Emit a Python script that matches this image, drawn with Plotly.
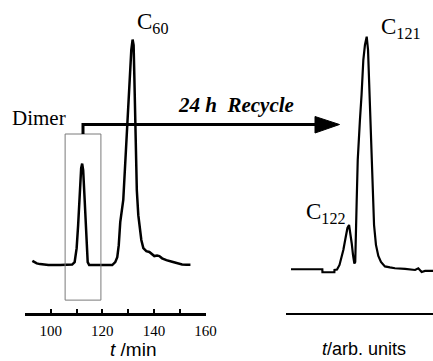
import plotly.graph_objects as go

# ---------------- data ----------------
left_time = [92.85, 94.56, 95.84, 99.07, 103.62, 105.95, 108.28, 109.25, 110.03, 110.61,
             111.20, 111.78, 112.17, 112.56, 113.14, 113.53, 113.92, 114.31, 114.89, 119.17,
             123.83, 125.0, 125.78, 126.36, 126.94, 128.11, 128.89, 129.55, 130.05, 130.64,
             131.22, 131.73, 132.12, 132.39, 132.62, 132.85, 133.36, 133.94, 134.53, 135.11,
             135.89, 137.05, 138.22, 139.0, 140.16, 141.21, 142.11, 143.16, 144.83, 147.05,
             148.72, 150.93, 152.61, 154.16]
left_signal = [1.9, 0.75, 0.44, 0, 0, 0, 0.22, 1.33, 7.5, 17.7,
               31.0, 42.9, 44.9, 42.0, 28.8, 17.7, 6.6, 1.3, 0, 0,
               0, 1.3, 3.5, 8.8, 19.0, 28.8, 46.5, 61.9, 73.0, 84.1,
               95.1, 99.8, 97.3, 84.1, 68.6, 55.3, 33.2, 22.1, 16.4, 11.1,
               7.5, 6.2, 5.8, 4.9, 4.0, 4.2, 4.0, 3.0, 2.2, 1.5,
               0.9, 0.3, 0.2, 0.2]

right_time = [3.4, 24.7, 24.8, 32.9, 33.0, 34.7, 36.4, 37.8, 39.0, 40.5, 41.8, 42.9, 43.7,
              44.7, 45.6, 46.5, 47.1, 47.6, 48.1, 48.8, 49.7, 50.3, 51.4, 52.6, 53.7, 54.9,
              55.8, 56.5, 57.1, 58.0, 59.0, 59.9, 61.2, 62.8, 64.6, 67.3, 70.7, 74.1, 81.0,
              87.8, 90.0, 92.3, 94.6, 100]
right_signal = [-0.56, -0.56, -1.86, -1.86, -0.87, -0.65, 1.3, 4.3, 7.8, 13.0, 17.3, 18.6, 15.6,
                10.7, 5.6, 1.9, 2.6, 12.1, 29.4, 46.8, 59.7, 64.1, 74.9, 90.0, 96.5, 100.1,
                94.4, 81.4, 64.1, 46.8, 35.1, 18.6, 10.0, 5.2, 2.6, 0.65, 0.22, -0.13, -0.43,
                -0.87, -0.13, -1.73, -1.3, -1.3]

left_ticks = [90, 100, 110, 120, 130, 140, 150, 160]
left_ticktext = ["", "100", "", "120", "", "140", "", "160"]

box_time = [105.56, 119.44]
box_signal = [-15.5, 58.0]

W, H = 433, 361
SERIF = "Liberation Serif, Times New Roman, serif"
SANS = "Liberation Sans, Arial, sans-serif"


def px(x):
    return x / W


def py(y):
    return 1 - y / H


fig = go.Figure()
fig.add_trace(go.Scatter(x=left_time, y=left_signal, mode="lines",
                         line=dict(color="black", width=2.5), xaxis="x", yaxis="y",
                         hoverinfo="skip", showlegend=False))
fig.add_trace(go.Scatter(x=right_time, y=right_signal, mode="lines",
                         line=dict(color="black", width=2.2), xaxis="x2", yaxis="y2",
                         hoverinfo="skip", showlegend=False))

ydom = [48 / H, 1]
fig.update_layout(
    template="none",
    width=W, height=H, autosize=False, margin=dict(l=0, r=0, t=0, b=0, pad=0),
    paper_bgcolor="white", plot_bgcolor="white", showlegend=False,
    xaxis=dict(domain=[25 / W, 205.5 / W], range=[90, 160], anchor="y", automargin=False,
               showline=True, linecolor="black", linewidth=2.5,
               ticks="inside", ticklen=4, tickwidth=2, tickcolor="black",
               tickvals=left_ticks, ticktext=left_ticktext, ticklabelstandoff=2,
               tickfont=dict(family=SERIF, size=15, color="black"),
               showgrid=False, zeroline=False),
    yaxis=dict(domain=ydom, range=[-21.2, 117.3], visible=False, automargin=False),
    xaxis2=dict(domain=[286 / W, 1], range=[0, 100], anchor="y2", automargin=False,
                showline=True, linecolor="black", linewidth=1.6,
                ticks="", showticklabels=False, showgrid=False, zeroline=False),
    yaxis2=dict(domain=ydom, range=[-19.5, 116], visible=False, automargin=False),
)

# fraction box around the dimer peak
fig.add_shape(type="rect", xref="x", yref="y",
              x0=box_time[0], x1=box_time[1], y0=box_signal[0], y1=box_signal[1],
              line=dict(color="#7a7a7a", width=1))

# recycle arrow
fig.add_shape(type="path", xref="paper", yref="paper",
              path=f"M {px(83)},{py(134)} L {px(83)},{py(124.5)} L {px(318)},{py(124.5)}",
              line=dict(color="black", width=3))
fig.add_shape(type="path", xref="paper", yref="paper",
              path=f"M {px(315)},{py(116.5)} L {px(339.5)},{py(124.5)} L {px(315)},{py(133)} Z",
              fillcolor="black", line=dict(color="black", width=1))

ann = [
    dict(text="C<sub>60</sub>", x=px(152), y=py(23), font=dict(family=SERIF, size=23)),
    dict(text="Dimer", x=px(39), y=py(118), font=dict(family=SERIF, size=21)),
    dict(text="<b><i>24 h  Recycle</i></b>", x=px(236), y=py(105), font=dict(family=SERIF, size=21)),
    dict(text="C<sub>121</sub>", x=px(400), y=py(28), font=dict(family=SERIF, size=23)),
    dict(text="C<sub>122</sub>", x=px(325), y=py(213), font=dict(family=SERIF, size=23)),
    dict(text="<i>t</i> /min", x=px(133), y=py(349), font=dict(family=SANS, size=19)),
    dict(text="<i>t</i>/arb. units", x=px(364), y=py(349), font=dict(family=SANS, size=18)),
]
for a in ann:
    a["font"]["color"] = "black"
    fig.add_annotation(xref="paper", yref="paper", showarrow=False,
                       xanchor="center", yanchor="middle", **a)

fig.write_html("out.html")
